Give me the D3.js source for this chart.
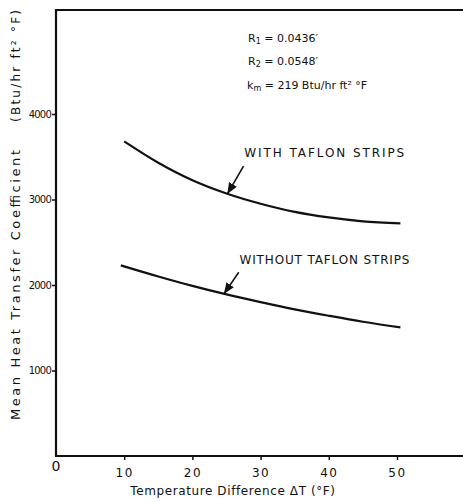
<!DOCTYPE html>
<html>
<head>
<meta charset="utf-8">
<script src="https://cdn.jsdelivr.net/npm/d3@7"></script>
<style>
  body { margin: 0; background: #fff; }
  svg text { font-family: "DejaVu Sans", sans-serif; fill: #111; }
</style>
</head>
<body>
<div id="chart"></div>
<script>
// values
const deltaT = [10, 15, 20, 25, 30, 35, 40, 45, 50.5];
const withStrips = [3680, 3430, 3225, 3070, 2950, 2855, 2790, 2745, 2720];
const withoutT = [9.5, 15, 20, 25, 30, 35, 40, 45, 50.5];
const withoutStrips = [2230, 2100, 1990, 1890, 1800, 1715, 1640, 1570, 1505];
const xTicks = [10, 20, 30, 40, 50];
const yTicks = [1000, 2000, 3000, 4000];

const width = 463, height = 502;
const svg = d3.select('#chart').append('svg')
  .attr('width', width)
  .attr('height', height);

const x = d3.scaleLinear().domain([0, 50]).range([56, 397]);
const y = d3.scaleLinear().domain([0, 4000]).range([456, 114]);

svg.append('defs').append('marker')
  .attr('id', 'arrow')
  .attr('viewBox', '0 0 10 10')
  .attr('refX', 9).attr('refY', 5)
  .attr('markerWidth', 7).attr('markerHeight', 7)
  .attr('orient', 'auto')
  .append('path').attr('d', 'M0,1 L10,5 L0,9 z').attr('fill', '#111');

// frame: top, left, bottom (right side open)
svg.append('path')
  .attr('d', 'M' + width + ',10 H56 V456 H' + width)
  .attr('fill', 'none').attr('stroke', '#111').attr('stroke-width', 2.2);

const yAxis = svg.append('g')
  .attr('transform', 'translate(56,0)')
  .call(d3.axisLeft(y).tickValues(yTicks).tickSize(4).tickPadding(1).tickFormat(d3.format('d')));
yAxis.select('.domain').remove();
yAxis.selectAll('text').attr('font-size', 10).attr('letter-spacing', -0.8);

const xAxis = svg.append('g')
  .attr('transform', 'translate(0,456)')
  .call(d3.axisBottom(x).tickValues(xTicks).tickSize(4).tickPadding(8));
xAxis.select('.domain').remove();
xAxis.selectAll('text').attr('font-size', 12).attr('letter-spacing', 1.5);
svg.selectAll('.tick line').attr('stroke', '#111').attr('stroke-width', 1.5);

svg.append('text')
  .attr('x', x(0)).attr('y', 471)
  .attr('text-anchor', 'middle').attr('font-size', 14)
  .text('0');

const line = d3.line()
  .x(d => x(d[0]))
  .y(d => y(d[1]))
  .curve(d3.curveMonotoneX);

svg.append('path')
  .datum(deltaT.map((t, i) => [t, withStrips[i]]))
  .attr('d', line)
  .attr('fill', 'none').attr('stroke', '#111').attr('stroke-width', 2.2);

svg.append('path')
  .datum(withoutT.map((t, i) => [t, withoutStrips[i]]))
  .attr('d', line)
  .attr('fill', 'none').attr('stroke', '#111').attr('stroke-width', 2.2);

// curve labels with arrows pointing at the curves
const labels = [
  { text: 'WITH TAFLON STRIPS', tx: 27.6, ty: 3500, len: 160, from: [27.5, 3390], to: [25.2, 3075] },
  { text: 'WITHOUT TAFLON STRIPS', tx: 26.9, ty: 2240, len: 170, from: [26.8, 2150], to: [24.7, 1905] }
];
labels.forEach(l => {
  svg.append('text')
    .attr('x', x(l.tx)).attr('y', y(l.ty))
    .attr('font-size', 12)
    .attr('textLength', l.len).attr('lengthAdjust', 'spacing')
    .text(l.text);
  svg.append('line')
    .attr('x1', x(l.from[0])).attr('y1', y(l.from[1]))
    .attr('x2', x(l.to[0])).attr('y2', y(l.to[1]))
    .attr('stroke', '#111').attr('stroke-width', 1.6)
    .attr('marker-end', 'url(#arrow)');
});

// constants block
const notes = svg.append('g').attr('font-size', 11);
notes.append('text').attr('x', 248).attr('y', 42).html('R<tspan font-size="8" dy="2">1</tspan><tspan dy="-2"> = 0.0436′</tspan>');
notes.append('text').attr('x', 248).attr('y', 65).html('R<tspan font-size="8" dy="2">2</tspan><tspan dy="-2"> = 0.0548′</tspan>');
notes.append('text').attr('x', 247).attr('y', 89).html('k<tspan font-size="8" dy="2">m</tspan><tspan dy="-2"> = 219  Btu/hr ft² °F</tspan>');

svg.append('text')
  .attr('x', 233).attr('y', 495)
  .attr('text-anchor', 'middle').attr('font-size', 12)
  .attr('letter-spacing', 0.6)
  .text('Temperature  Difference   ΔT  (°F)');

svg.append('text')
  .attr('transform', 'translate(20,285) rotate(-90)')
  .attr('text-anchor', 'middle').attr('font-size', 13)
  .attr('textLength', 270).attr('lengthAdjust', 'spacing')
  .text('Mean Heat Transfer Coefficient');

svg.append('text')
  .attr('transform', 'translate(20,66) rotate(-90)')
  .attr('text-anchor', 'middle').attr('font-size', 12)
  .attr('textLength', 112).attr('lengthAdjust', 'spacing')
  .text('(Btu/hr ft² °F)');
</script>
</body>
</html>
